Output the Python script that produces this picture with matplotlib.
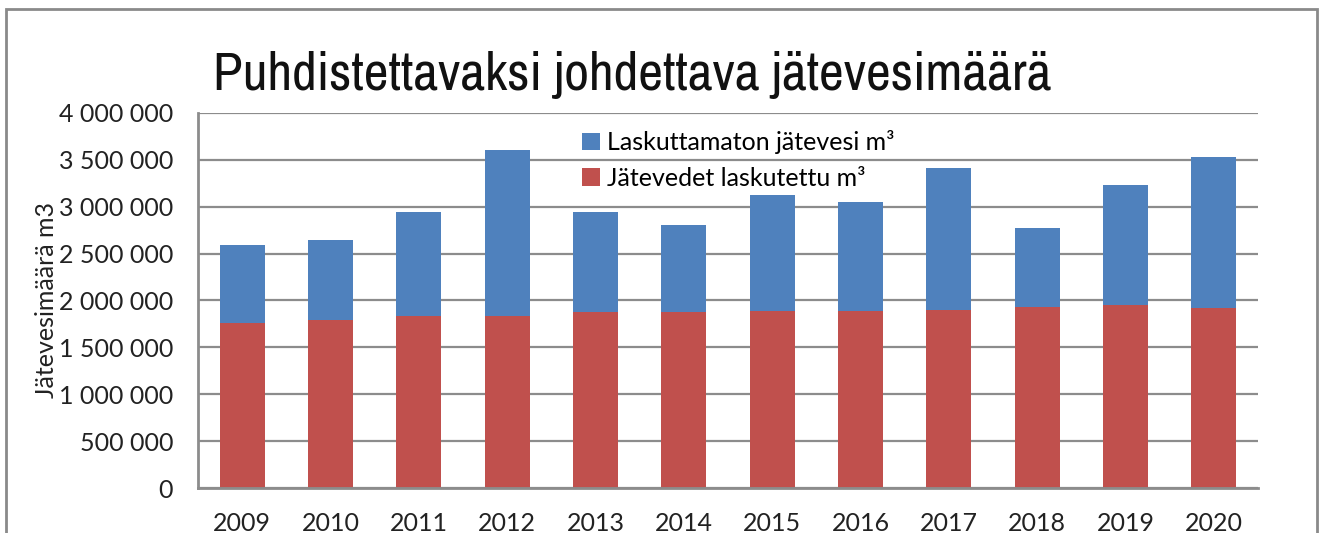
import matplotlib
matplotlib.use("Agg")
import matplotlib.pyplot as plt
from matplotlib.patches import Rectangle
import numpy as np

plt.rcParams['font.family'] = ['Lato', 'DejaVu Sans']

years = ['2009', '2010', '2011', '2012', '2013', '2014',
         '2015', '2016', '2017', '2018', '2019', '2020']
# laskutettu (red, bottom) and total height of the stack
laskutettu = [1760000, 1796000, 1835000, 1835000, 1874000, 1874000,
              1888000, 1888000, 1895000, 1934000, 1949000, 1917000]
total = [2588000, 2641000, 2939000, 3606000, 2946000, 2801000,
         3127000, 3046000, 3414000, 2769000, 3230000, 3528000]
laskuttamaton = [t - l for t, l in zip(total, laskutettu)]

yticks = [0, 500000, 1000000, 1500000, 2000000, 2500000, 3000000, 3500000, 4000000]
ytick_labels = ['0', '500 000', '1 000 000', '1 500 000', '2 000 000',
                '2 500 000', '3 000 000', '3 500 000', '4 000 000']

blue = '#4F81BD'
red = '#C0504D'
gray = '#8C8C8C'

fig = plt.figure(figsize=(13.21, 5.33), dpi=100)
ax = fig.add_axes([0.1499, 0.0839, 0.8024, 0.7047])

x = np.arange(len(years))
ax.bar(x, laskutettu, width=0.51, color=red, zorder=3,
       label='Jätevedet laskutettu m³')
ax.bar(x, laskuttamaton, width=0.51, bottom=laskutettu, color=blue, zorder=3,
       label='Laskuttamaton jätevesi m³')

ax.set_xlim(-0.5, len(years) - 0.5)
ax.set_ylim(0, 4000000)
ax.set_yticks(yticks)
ax.set_yticklabels(ytick_labels)
ax.set_xticks(x)
ax.set_xticklabels(years)
ax.tick_params(axis='both', length=0, labelsize=18, labelcolor='#222222')
ax.tick_params(axis='y', pad=18)
ax.tick_params(axis='x', pad=17)

ax.grid(axis='y', color=gray, linewidth=1.6, zorder=1)
for side in ['right', 'top']:
    ax.spines[side].set_visible(False)
for side in ['left', 'bottom']:
    ax.spines[side].set_color(gray)
    ax.spines[side].set_linewidth(2)
    ax.spines[side].set_zorder(4)

ax.set_ylabel('Jätevesimäärä m3', fontsize=18, color='#222222')
ax.yaxis.set_label_coords(-0.132, 0.5)

handles, labels = ax.get_legend_handles_labels()
ax.legend(handles[::-1], labels[::-1], loc='upper left',
          bbox_to_anchor=(0.346, 1.0), frameon=False, fontsize=18,
          handlelength=0.7, handleheight=0.7, handletextpad=0.3,
          labelspacing=0.5, borderaxespad=0.3)

fig.text(213 / 1321, 1 - 90 / 533, 'Puhdistettavaksi johdettava jätevesimäärä',
         fontsize=39, ha='left', va='baseline', color='#111111',
         family=['Archivo Narrow', 'Liberation Sans'])

# outer chart frame
fig.patches.append(Rectangle((6 / 1321, -0.1), 1311 / 1321, 1.1 - 9 / 533,
                             transform=fig.transFigure, fill=False,
                             edgecolor='#8A8A8A', linewidth=2))

fig.savefig('out.png', dpi=100)
